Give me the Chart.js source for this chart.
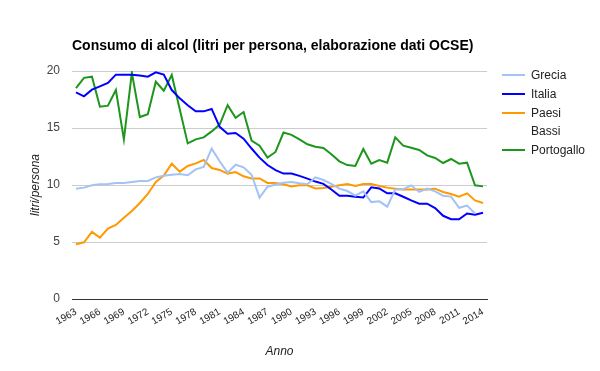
<!DOCTYPE html>
<html>
<head>
<meta charset="utf-8">
<script src="https://cdn.jsdelivr.net/npm/chart.js@4/dist/chart.umd.min.js"></script>
<style>
    html, body { margin: 0; padding: 0; background: #fff; }
    #wrap { position: relative; width: 600px; height: 371px; font-family: Arial, "Liberation Sans", sans-serif; }
    #title { position: absolute; left: 72px; top: 37px; font-size: 14px; font-weight: bold; color: #000; white-space: nowrap; }
    #legend { position: absolute; left: 502px; top: 66px; font-size: 12px; color: #222; }
    .item { display: flex; align-items: flex-start; margin-bottom: 1px; }
    .swatch { width: 23px; height: 2px; margin-top: 8px; margin-right: 6px; flex: none; }
    .name { width: 60px; line-height: 18px; }
</style>
</head>
<body>
<div id="wrap">
    <canvas id="chart" width="600" height="371"></canvas>
    <div id="title">Consumo di alcol (litri per persona, elaborazione dati OCSE)</div>
    <div id="legend"></div>
</div>
<script>
const years = [];
for (let y = 1963; y <= 2014; y++) years.push(String(y));
const tickYears = ['1963', '1966', '1969', '1972', '1975', '1978', '1981', '1984', '1987', '1990', '1993', '1996', '1999', '2002', '2005', '2008', '2011', '2014'];
const yTicks = [0, 5, 10, 15, 20];

const seriesNames = ['Grecia', 'Italia', 'Paesi Bassi', 'Portogallo'];
const seriesColors = ['#a4c2f4', '#0000ff', '#ff9900', '#1e961e'];

const grecia = [9.68, 9.77, 9.97, 10.06, 10.09, 10.18, 10.18, 10.26, 10.35, 10.35, 10.67, 10.82, 10.9, 10.96, 10.85, 11.37, 11.58, 13.19, 12.08, 11.08, 11.78, 11.55, 10.9, 8.89, 9.85, 10.05,
    10.2, 10.26, 10.15, 10.06, 10.67, 10.44, 10.09, 9.68, 9.47, 9.06, 9.44, 8.5, 8.57, 8.1, 9.6, 9.62, 9.97, 9.39, 9.68, 9.44, 9.06, 8.98, 8.0, 8.19, 7.5, null];
const italia = [18.13, 17.78, 18.36, 18.65, 18.95, 19.68, 19.68, 19.68, 19.6, 19.5, 19.88, 19.68, 18.33, 17.6, 17.0, 16.46, 16.46, 16.67, 15.1, 14.5, 14.56, 14.06, 13.2, 12.4, 11.75, 11.3,
    11.0, 11.0, 10.8, 10.56, 10.3, 10.1, 9.6, 9.06, 9.06, 8.97, 8.9, 9.8, 9.7, 9.27, 9.27, 8.97, 8.65, 8.36, 8.36, 7.98, 7.3, 7.0, 7.0, 7.5, 7.4, 7.57];
const paesiBassi = [4.8, 4.97, 5.88, 5.38, 6.17, 6.49, 7.13, 7.72, 8.42, 9.21, 10.26, 10.82, 11.87, 11.17, 11.67, 11.9, 12.19, 11.49, 11.32, 11.0, 11.14, 10.76, 10.58, 10.58, 10.18, 10.17,
    10.06, 9.88, 9.97, 9.97, 9.7, 9.74, 9.85, 9.97, 10.09, 9.91, 10.09, 10.09, 9.91, 9.77, 9.68, 9.6, 9.6, 9.6, 9.6, 9.68, 9.39, 9.21, 8.98, 9.27, 8.65, 8.42];
const portogallo = [18.5, 19.4, 19.5, 16.87, 16.96, 18.33, 14.0, 19.85, 15.96, 16.2, 19.06, 18.27, 19.65, 16.65, 13.65, 14.0, 14.18, 14.7, 15.3, 17.0, 15.9, 16.4, 13.9, 13.45, 12.4, 12.9,
    14.6, 14.4, 14.0, 13.57, 13.36, 13.25, 12.7, 12.08, 11.75, 11.67, 13.16, 11.87, 12.19, 11.96, 14.18, 13.45, 13.27, 13.07, 12.6, 12.37, 11.93, 12.28, 11.87, 11.96, 9.97, 9.88];

const seriesData = [grecia, italia, paesiBassi, portogallo];

Chart.defaults.font.family = 'Arial, "Liberation Sans", sans-serif';

const datasets = seriesNames.map((name, i) => ({
    label: name,
    data: seriesData[i],
    borderColor: seriesColors[i],
    backgroundColor: seriesColors[i],
    borderWidth: 2,
    pointRadius: 0,
    tension: 0
}));

// legend as html so "Paesi Bassi" wraps like the original
const legend = document.getElementById('legend');
seriesNames.forEach((name, i) => {
    legend.innerHTML += `<div class="item"><div class="swatch" style="background:${seriesColors[i]}"></div><div class="name">${name}</div></div>`;
});

new Chart(document.getElementById('chart'), {
    type: 'line',
    data: { labels: years, datasets },
    options: {
        responsive: false,
        animation: false,
        layout: { padding: { left: 24, right: 113, top: 71, bottom: 10 } },
        plugins: { legend: { display: false }, tooltip: { enabled: false } },
        scales: {
            x: {
                offset: true,
                grid: { display: false, drawTicks: false },
                border: { color: '#333', width: 1 },
                ticks: {
                    autoSkip: false,
                    maxRotation: 30,
                    minRotation: 30,
                    padding: 7,
                    color: '#222',
                    font: { size: 10 },
                    callback(val) {
                        const lab = this.getLabelForValue(val);
                        return tickYears.includes(lab) ? lab : '';
                    }
                },
                title: { display: true, text: 'Anno', color: '#222', font: { size: 12, style: 'italic' }, padding: { top: 0, bottom: 2 } },
                afterFit(scale) { scale.height = 62; }
            },
            y: {
                min: 0,
                max: 20,
                afterBuildTicks(scale) { scale.ticks = yTicks.map(v => ({ value: v })); },
                grid: { color: '#cccccc', drawTicks: false },
                border: { display: false },
                ticks: { padding: 12, color: '#444', font: { size: 12 } },
                title: { display: true, text: 'litri/persona', color: '#222', font: { size: 12, style: 'italic' }, padding: { top: 4, bottom: 0 } },
                afterFit(scale) { scale.width = 48; }
            }
        }
    }
});
</script>
</body>
</html>
